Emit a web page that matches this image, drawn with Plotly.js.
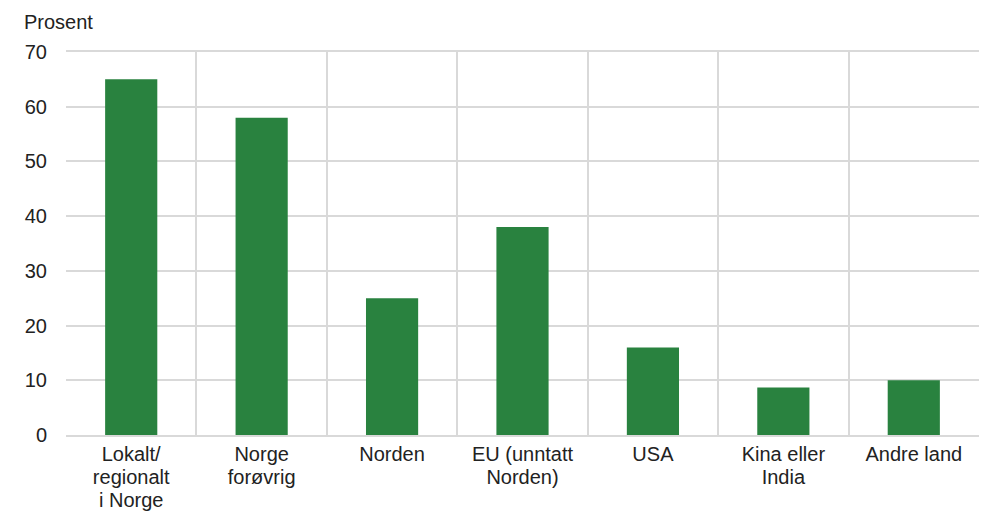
<!DOCTYPE html>
<html>
<head>
<meta charset="utf-8">
<script src="https://cdn.plot.ly/plotly-3.0.1.min.js"></script>
<style>html,body{margin:0;padding:0;background:#fff;}#chart{width:989px;height:522px;}</style>
</head>
<body>
<div id="chart"></div>
<script>
const categories = ["Lokalt/<br>regionalt<br>i Norge", "Norge<br>forøvrig", "Norden", "EU (unntatt<br>Norden)", "USA", "Kina eller<br>India", "Andre land"];
const values = [65, 58, 25, 38, 16, 8.7, 10];
const yTicks = [0, 10, 20, 30, 40, 50, 60, 70];
const yTitle = "Prosent";

const font = {family: "Liberation Sans, Arial, sans-serif", size: 20, color: "#222"};
const grid = "#d9d9d9";

Plotly.newPlot("chart", [{
  type: "bar",
  x: categories,
  y: values,
  width: 0.4,
  marker: {color: "#29823f"},
  hoverinfo: "x+y"
}], {
  width: 989, height: 522,
  margin: {l: 66, r: 10, t: 52, b: 87},
  paper_bgcolor: "#fff", plot_bgcolor: "#fff",
  font: font,
  showlegend: false,
  xaxis: {
    type: "category",
    range: [-0.5, 6.5],
    tickson: "boundaries",
    showgrid: true, gridcolor: grid, gridwidth: 2,
    showline: true, linecolor: grid, linewidth: 2, mirror: true,
    ticks: "", zeroline: false,
    tickfont: font, fixedrange: true
  },
  yaxis: {
    range: [0, 70],
    tickvals: yTicks,
    ticktext: yTicks.map(String),
    showgrid: true, gridcolor: grid, gridwidth: 2,
    zeroline: false,
    ticks: "", ticklabelstandoff: 18,
    tickfont: font, fixedrange: true
  },
  annotations: [{
    text: yTitle, xref: "paper", yref: "paper",
    x: -44/913, y: 1, xanchor: "left", yanchor: "middle", yshift: 30,
    showarrow: false, font: {family: font.family, size: 20, color: "#222"}
  }]
}, {displayModeBar: false, staticPlot: true}).then(function () {
  // tighten multi-line tick label spacing (~1.15 line height like the reference)
  document.querySelectorAll("#chart .xtick text tspan.line").forEach(function (t) {
    var dy = parseFloat(t.getAttribute("dy"));
    if (!isNaN(dy)) t.setAttribute("dy", (dy / 1.3 * 1.15) + "em");
  });
});
</script>
</body>
</html>
